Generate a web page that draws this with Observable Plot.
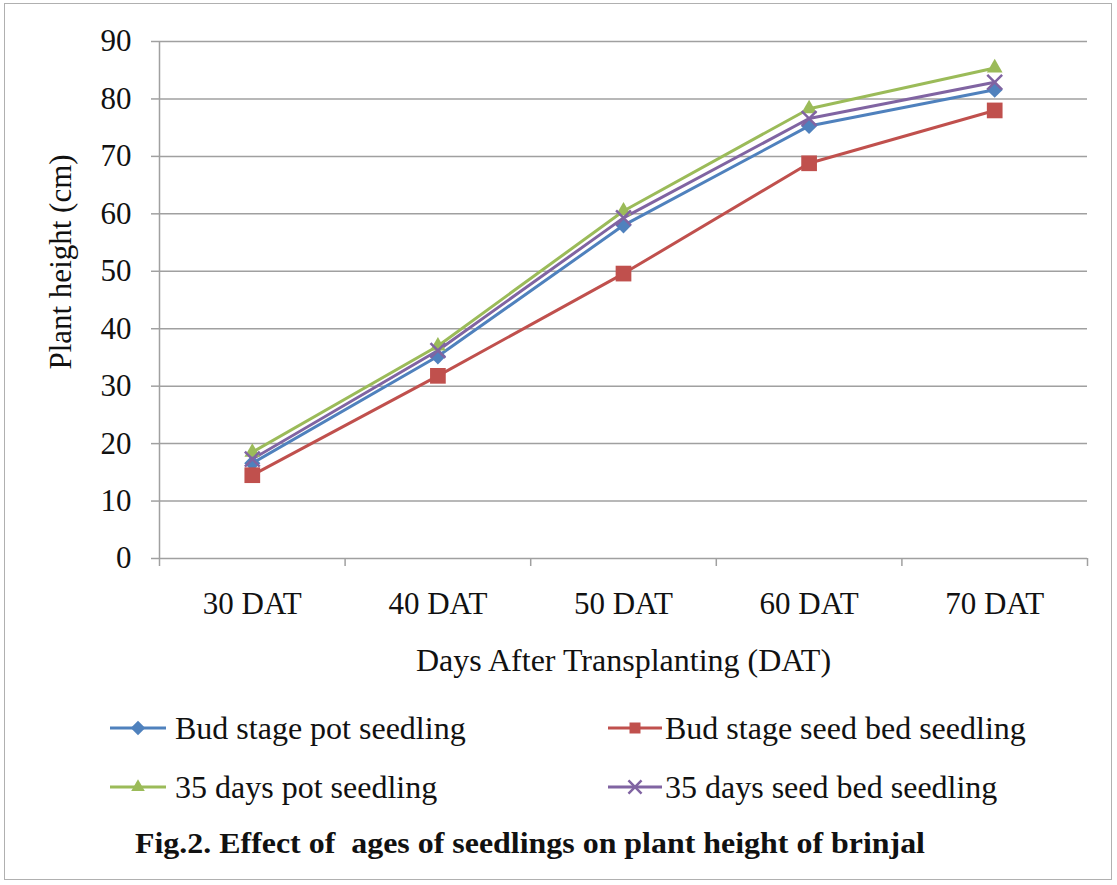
<!DOCTYPE html>
<html>
<head>
<meta charset="utf-8">
<script src="https://cdn.jsdelivr.net/npm/d3@7"></script>
<script src="https://cdn.jsdelivr.net/npm/@observablehq/plot@0.6"></script>
<style>
  html, body { margin: 0; padding: 0; background: #fff; }
  #frame { position: absolute; left: 4px; top: 3px; width: 1108px; height: 877px; border: 1.5px solid #b0b0b0; box-sizing: border-box; }
  #chart { position: absolute; left: 0; top: 0; }
  .leg { position: absolute; font-family: "Liberation Serif", "Times New Roman", serif; font-size: 32px; color: #111; white-space: nowrap; line-height: 1; }
  .sw { position: absolute; }
  #caption { position: absolute; left: 0; top: 0; }
</style>
</head>
<body>
<div id="frame"></div>
<div id="chart"></div>
<div id="legend"></div>
<svg id="caption" width="1117" height="885" style="pointer-events:none"></svg>
<script>
const categories = ["30 DAT", "40 DAT", "50 DAT", "60 DAT", "70 DAT"];
const seriesNames = ["Bud stage pot seedling", "Bud stage seed bed seedling", "35 days pot seedling", "35 days seed bed seedling"];
const budPot = [16.6, 35.2, 58.0, 75.3, 81.6];
const budBed = [14.5, 31.8, 49.6, 68.8, 78.0];
const pot35  = [18.5, 37.0, 60.5, 78.3, 85.4];
const bed35  = [17.3, 36.2, 59.3, 76.6, 82.9];
const colors = ["#4F81BD", "#C0504D", "#9BBB59", "#8064A2"];
const symbols = ["diamond2", "square2", "triangle2", "times"];
const yTicks = [0, 10, 20, 30, 40, 50, 60, 70, 80, 90];
const xBounds = [-0.5, 0.5, 1.5, 2.5, 3.5, 4.5];

const values = [budPot, budBed, pot35, bed35];
const rows = [];
values.forEach((arr, s) => arr.forEach((v, i) => rows.push({i, value: v, series: seriesNames[s]})));

const font = '"Liberation Serif", "Times New Roman", serif';
const grey = "#a0a0a0";
const radii = [7.3, 10, 7.5, 6.8];

const marks = [
  Plot.gridY(yTicks.filter(d => d > 0), {stroke: grey, strokeOpacity: 1, strokeWidth: 1.5}),
  Plot.ruleY([0], {stroke: grey, strokeWidth: 1.5}),
  Plot.ruleX([-0.5], {stroke: grey, strokeWidth: 1.5}),
  Plot.axisY(yTicks, {tickSize: 8, tickPadding: 20, stroke: grey, strokeWidth: 1.5, fontSize: 31, label: null, fill: "#111"}),
  Plot.axisX([0, 1, 2, 3, 4], {tickSize: 0, tickPadding: 33, tickFormat: i => categories[i], fontSize: 31, label: null, fill: "#111"}),
  Plot.axisX(xBounds, {tickSize: 8, tickFormat: () => "", stroke: grey, strokeWidth: 1.5, label: null}),
  Plot.line(rows, {x: "i", y: "value", z: "series", stroke: "series", strokeWidth: 3}),
];
values.forEach((arr, s) => {
  const data = arr.map((v, i) => ({i, value: v}));
  if (symbols[s] === "times") {
    marks.push(Plot.dot(data, {x: "i", y: "value", symbol: () => "times", r: radii[s], stroke: colors[s], strokeWidth: 2.5, fill: "none"}));
  } else {
    marks.push(Plot.dot(data, {x: "i", y: "value", symbol: () => symbols[s], r: radii[s], fill: colors[s], stroke: "none"}));
  }
});
marks.push(Plot.text(["Days After Transplanting (DAT)"], {frameAnchor: "bottom", dy: 102, fontSize: 32, fill: "#111", lineAnchor: "middle", textAnchor: "middle"}));
marks.push(Plot.text(["Plant height (cm)"], {frameAnchor: "left", dx: -98, dy: -38, rotate: -90, fontSize: 31, fill: "#111", lineAnchor: "middle", textAnchor: "middle"}));

const chart = Plot.plot({
  width: 1117,
  height: 680,
  marginLeft: 159,
  marginRight: 30,
  marginTop: 41,
  marginBottom: 122,
  style: {fontFamily: font, background: "transparent", overflow: "visible"},
  x: {type: "linear", domain: [-0.5, 4.5], axis: null},
  y: {domain: [0, 90], axis: null},
  color: {domain: seriesNames, range: colors},
  marks
});
document.getElementById("chart").appendChild(chart);

// Legend
const legend = document.getElementById("legend");
const legPos = [
  {lx: 110, tx: 175, y: 728},
  {lx: 608, tx: 665, y: 728},
  {lx: 110, tx: 175, y: 787},
  {lx: 608, tx: 665, y: 787}
];
const symFns = [d3.symbolDiamond2, d3.symbolSquare2, d3.symbolTriangle2, d3.symbolTimes];
const legR = [6.5, 7, 6.5, 6];
seriesNames.forEach((name, s) => {
  const p = legPos[s];
  const w = s % 2 === 0 ? 56 : 54;
  const svg = d3.select(legend).append("svg").attr("class", "sw")
    .style("left", p.lx + "px").style("top", (p.y - 10) + "px")
    .attr("width", w).attr("height", 20);
  svg.append("line").attr("x1", 0).attr("x2", w).attr("y1", 10).attr("y2", 10)
    .attr("stroke", colors[s]).attr("stroke-width", 3);
  const path = svg.append("path").attr("d", d3.symbol(symFns[s], Math.PI * legR[s] * legR[s])())
    .attr("transform", `translate(${w / 2},10)`);
  if (s === 3) path.attr("fill", "none").attr("stroke", colors[s]).attr("stroke-width", 2.5);
  else path.attr("fill", colors[s]);
  d3.select(legend).append("div").attr("class", "leg")
    .style("left", p.tx + "px").style("top", (p.y - 16) + "px").text(name);
});

// Caption
d3.select("#caption").append("text")
  .attr("x", 135).attr("y", 853)
  .attr("font-family", font).attr("font-weight", "bold").attr("font-size", 29)
  .attr("textLength", 790).attr("lengthAdjust", "spacingAndGlyphs")
  .style("white-space", "pre")
  .attr("fill", "#111")
  .text("Fig.2. Effect of  ages of seedlings on plant height of brinjal");
</script>
</body>
</html>
